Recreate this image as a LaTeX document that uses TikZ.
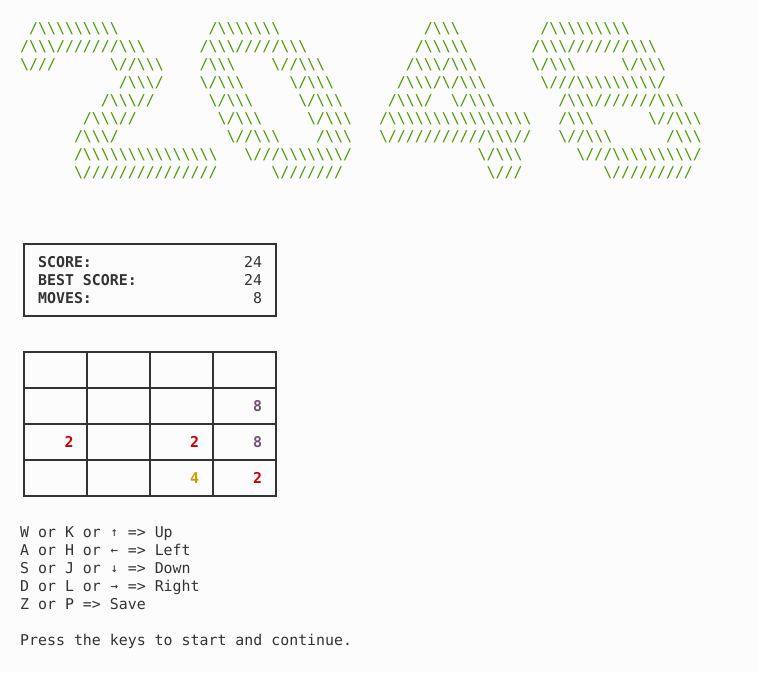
\documentclass[tikz,border=0pt]{standalone}
\usepackage{fontspec}
\setmonofont{DejaVu Sans Mono}
\definecolor{termbg}{HTML}{FCFCFC}
\definecolor{termfg}{HTML}{333333}
\definecolor{artgreen}{HTML}{4E9A06}
\definecolor{tilered}{HTML}{CC0000}
\definecolor{tilegold}{HTML}{C4A000}
\definecolor{tilepurple}{HTML}{75507B}
\newcommand\asc[1]{\detokenize{#1}}
\newcommand\karr[1]{\makebox[8.97pt]{\raisebox{1pt}{\fontsize{12.5}{12.5}\selectfont #1}}}
\begin{document}
\begin{tikzpicture}[x=1pt,y=-1pt,
  term/.style={inner sep=0pt, anchor=base west, text=termfg, font=\ttfamily\fontsize{14.9}{18}\selectfont},
  art/.style={term, text=artgreen},
  scorekey/.style={term, font=\ttfamily\bfseries\fontsize{14.9}{18}\selectfont},
  scoreval/.style={term, anchor=base east},
  tile/.style={term, anchor=base east, font=\ttfamily\bfseries\fontsize{14.9}{18}\selectfont},
  boxline/.style={draw=termfg, line width=1.4pt}]
\fill[termbg] (0,0) rectangle (759,672);
\begin{scope}[shift={(20,33)}, x=8.97pt, y=-18pt]
% 2
\node[art] (two0) at (1,0) {\asc{/\\\\\\\\\ }};
\node[art] (two1) at (0,1) {\asc{/\\\///////\\\ }};
\node[art] (two2a) at (0,2) {\asc{\///}};
\node[art] (two2b) at (10,2) {\asc{\//\\\ }};
\node[art] (two3) at (11,3) {\asc{/\\\/}};
\node[art] (two4) at (9,4) {\asc{/\\\//}};
\node[art] (two5) at (7,5) {\asc{/\\\//}};
\node[art] (two6) at (6,6) {\asc{/\\\/}};
\node[art] (two7) at (6,7) {\asc{/\\\\\\\\\\\\\\\ }};
\node[art] (two8) at (6,8) {\asc{\///////////////}};
% 0
\node[art] (zero0) at (21,0) {\asc{/\\\\\\\ }};
\node[art] (zero1) at (20,1) {\asc{/\\\/////\\\ }};
\node[art] (zero2a) at (20,2) {\asc{/\\\ }};
\node[art] (zero2b) at (28,2) {\asc{\//\\\ }};
\node[art] (zero3a) at (20,3) {\asc{\/\\\ }};
\node[art] (zero3b) at (30,3) {\asc{\/\\\ }};
\node[art] (zero4a) at (21,4) {\asc{\/\\\ }};
\node[art] (zero4b) at (31,4) {\asc{\/\\\ }};
\node[art] (zero5a) at (22,5) {\asc{\/\\\ }};
\node[art] (zero5b) at (32,5) {\asc{\/\\\ }};
\node[art] (zero6a) at (23,6) {\asc{\//\\\ }};
\node[art] (zero6b) at (33,6) {\asc{/\\\ }};
\node[art] (zero7) at (25,7) {\asc{\///\\\\\\\/}};
\node[art] (zero8) at (28,8) {\asc{\///////}};
% 4
\node[art] (four0) at (45,0) {\asc{/\\\ }};
\node[art] (four1) at (44,1) {\asc{/\\\\\ }};
\node[art] (four2) at (43,2) {\asc{/\\\/\\\ }};
\node[art] (four3) at (42,3) {\asc{/\\\/\/\\\ }};
\node[art] (four4a) at (41,4) {\asc{/\\\/}};
\node[art] (four4b) at (48,4) {\asc{\/\\\ }};
\node[art] (four5) at (40,5) {\asc{/\\\\\\\\\\\\\\\\ }};
\node[art] (four6) at (40,6) {\asc{\///////////\\\//}};
\node[art] (four7) at (51,7) {\asc{\/\\\ }};
\node[art] (four8) at (52,8) {\asc{\///}};
% 8
\node[art] (eight0) at (58,0) {\asc{/\\\\\\\\\ }};
\node[art] (eight1) at (57,1) {\asc{/\\\///////\\\ }};
\node[art] (eight2a) at (57,2) {\asc{\/\\\ }};
\node[art] (eight2b) at (67,2) {\asc{\/\\\ }};
\node[art] (eight3) at (58,3) {\asc{\///\\\\\\\\\/}};
\node[art] (eight4) at (60,4) {\asc{/\\\///////\\\ }};
\node[art] (eight5a) at (60,5) {\asc{/\\\ }};
\node[art] (eight5b) at (70,5) {\asc{\//\\\ }};
\node[art] (eight6a) at (60,6) {\asc{\//\\\ }};
\node[art] (eight6b) at (72,6) {\asc{/\\\ }};
\node[art] (eight7) at (62,7) {\asc{\///\\\\\\\\\/}};
\node[art] (eight8) at (65,8) {\asc{\/////////}};
% score
\node[scorekey] (score) at (2,13) {SCORE:};
\node[scorekey] (best) at (2,14) {BEST SCORE:};
\node[scorekey] (moves) at (2,15) {MOVES:};
\node[scoreval] (scoreval) at (27,13) {24};
\node[scoreval] (bestval) at (27,14) {24};
\node[scoreval] (movesval) at (27,15) {8};
% tiles
\node[tile, text=tilepurple] (t13) at (27,21) {8};
\node[tile, text=tilered] (t20) at (6,23) {2};
\node[tile, text=tilered] (t22) at (20,23) {2};
\node[tile, text=tilepurple] (t23) at (27,23) {8};
\node[tile, text=tilegold] (t32) at (20,25) {4};
\node[tile, text=tilered] (t33) at (27,25) {2};
% keys
\node[term] (keyup) at (0,28) {W or K or \karr{↑} => Up};
\node[term] (keyleft) at (0,29) {A or H or \karr{←} => Left};
\node[term] (keydown) at (0,30) {S or J or \karr{↓} => Down};
\node[term] (keyright) at (0,31) {D or L or \karr{→} => Right};
\node[term] (keysave) at (0,32) {Z or P => Save};
\node[term] (press) at (0,34) {Press the keys to start and continue.};
\end{scope}
\draw[boxline] (24,244) rectangle (276,316);
\draw[boxline] (24,352) rectangle (276,496);
\foreach \gx in {87,150,213} \draw[boxline] (\gx,352) -- (\gx,496);
\foreach \gy in {388,424,460} \draw[boxline] (24,\gy) -- (276,\gy);
\end{tikzpicture}
\end{document}
